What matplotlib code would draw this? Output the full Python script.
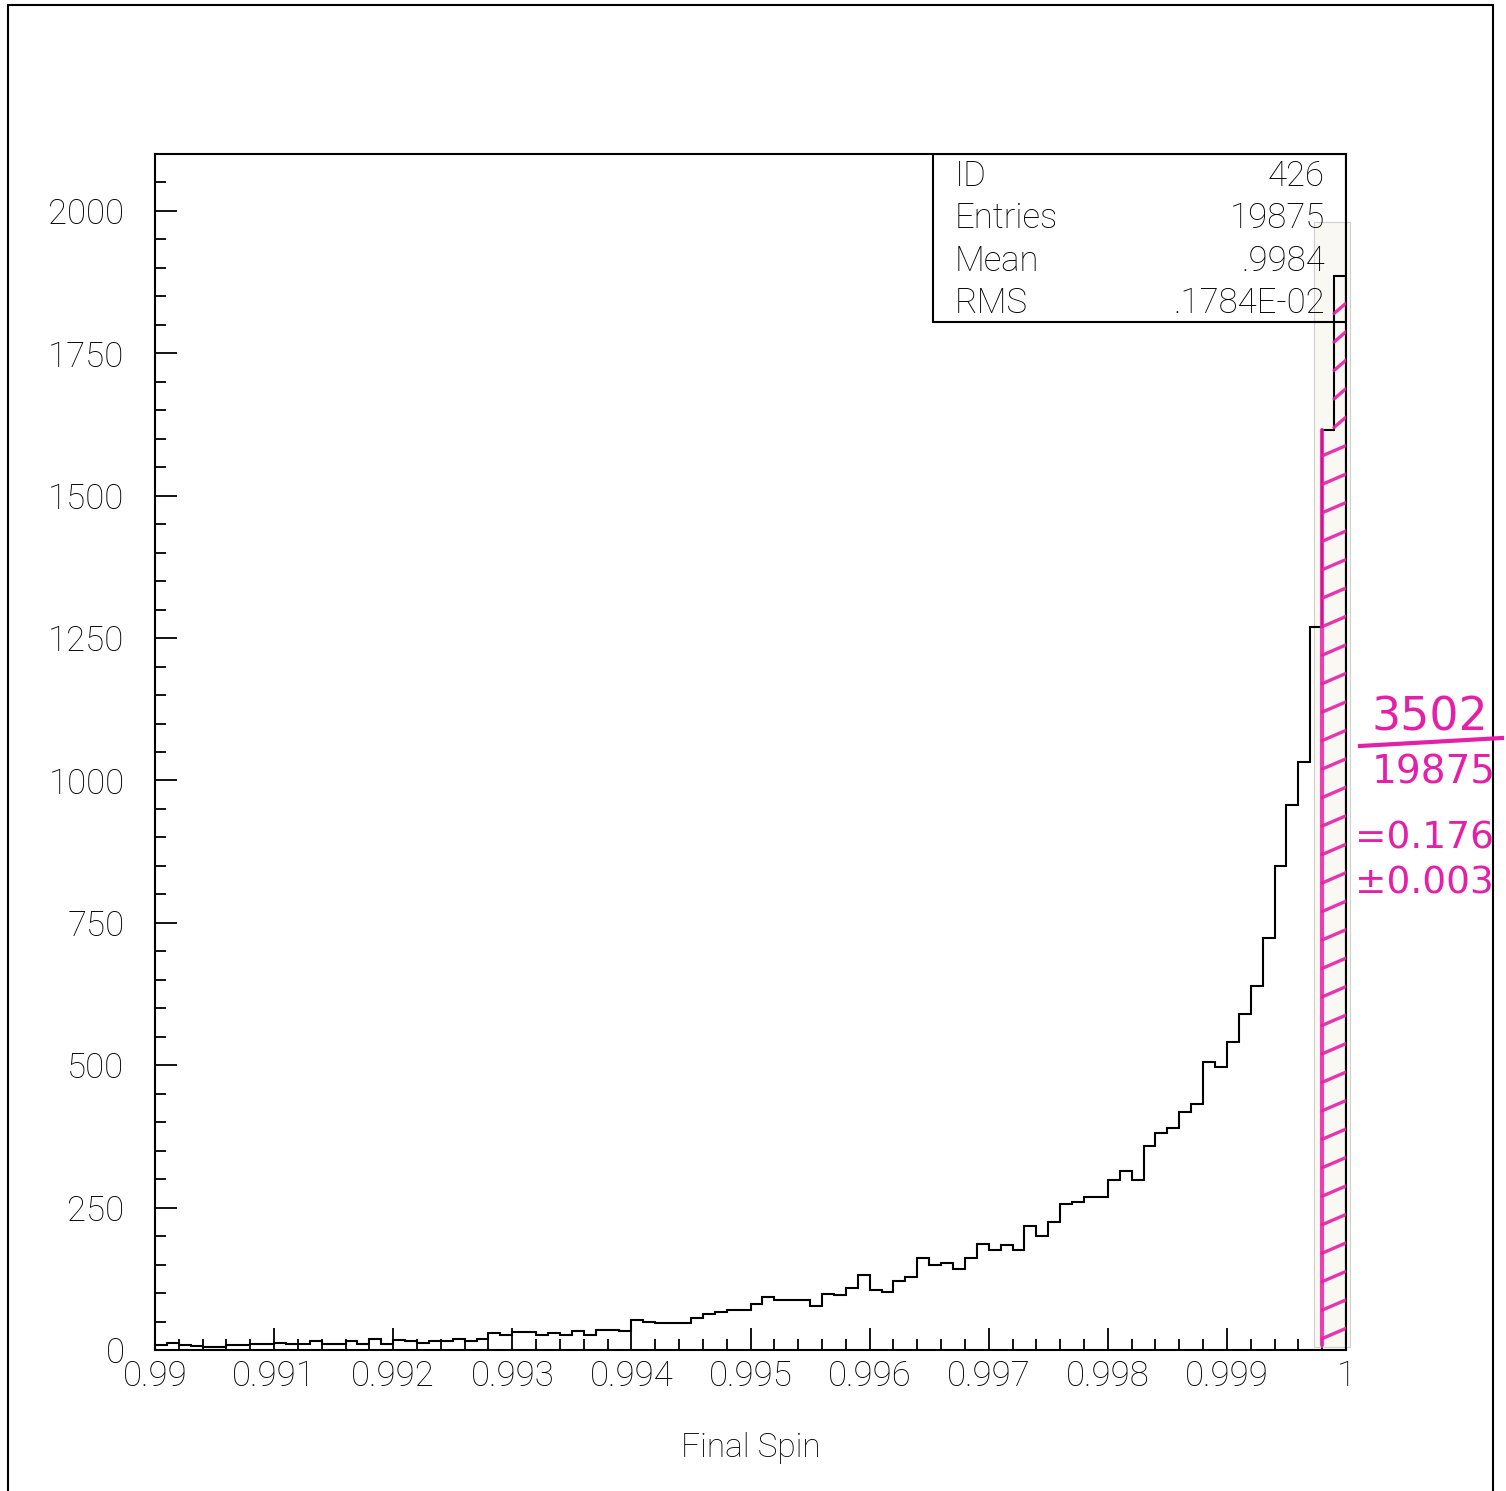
"""Final spin histogram (HBOOK style) with hand-written tail fraction."""
import matplotlib

matplotlib.use("Agg")
import matplotlib.pyplot as plt
from matplotlib.lines import Line2D
from matplotlib.patches import Rectangle
from matplotlib.ticker import MultipleLocator
import numpy as np

# histogram: 100 bins between 0.99 and 1.0
x_lo, x_hi, n_bins = 0.99, 1.0, 100
counts = [
    8, 12, 8, 7, 6, 6, 8, 9, 10, 10,
    13, 10, 10, 16, 10, 10, 15, 11, 19, 11,
    17, 15, 12, 15, 15, 20, 16, 19, 30, 27,
    32, 32, 27, 29, 27, 33, 27, 35, 35, 34,
    52, 50, 48, 47, 48, 56, 63, 67, 71, 70,
    80, 93, 87, 88, 87, 77, 98, 96, 109, 132,
    106, 102, 122, 129, 161, 149, 152, 143, 162, 186,
    175, 184, 175, 218, 200, 224, 256, 259, 268, 269,
    298, 314, 298, 358, 381, 389, 418, 432, 506, 497,
    540, 590, 639, 723, 850, 957, 1033, 1270, 1616, 1886,
]

xticks = [0.99, 0.991, 0.992, 0.993, 0.994, 0.995, 0.996, 0.997, 0.998, 0.999, 1.0]
xtick_labels = ["0.99", "0.991", "0.992", "0.993", "0.994", "0.995",
                "0.996", "0.997", "0.998", "0.999", "1"]
yticks = [0, 250, 500, 750, 1000, 1250, 1500, 1750, 2000]
ytick_labels = [str(v) for v in yticks]

stat_names = ["ID", "Entries", "Mean", "RMS"]
stat_values = ["426", "19875", ".9984", ".1784E-02"]

# hand-written note on the last two bins
note_num = "3502"
note_den = "19875"
note_ratio = "=0.176"
note_err = "±0.003"

FONT = ["Roboto", "DejaVu Sans"]
PINK = "#e61fa8"
TXT = 25

plt.rcParams["font.family"] = FONT
plt.rcParams["font.weight"] = "light"
plt.rcParams["axes.labelweight"] = "light"

W, H = 1506, 1491
fig = plt.figure(figsize=(W / 100, H / 100), dpi=100)
ax = fig.add_axes([155 / W, 1 - 1350 / H, (1346 - 155) / W, (1350 - 154) / H])

edges = np.linspace(x_lo, x_hi, n_bins + 1)
ax.stairs(counts, edges, color="black", lw=1.5, zorder=3)

ax.set_xlim(x_lo, x_hi)
ax.set_ylim(0, 2100)
ax.set_xticks(xticks, xtick_labels)
ax.set_yticks(yticks, ytick_labels)
ax.xaxis.set_minor_locator(MultipleLocator(0.0002))
ax.yaxis.set_minor_locator(MultipleLocator(50))
ax.tick_params(which="both", direction="in", top=False, right=False,
               width=1.3, colors="black")
ax.tick_params(which="major", length=16, labelsize=TXT)
ax.tick_params(which="minor", length=8)
ax.tick_params(axis="x", pad=7)
ax.tick_params(axis="y", pad=22)
for s in ax.spines.values():
    s.set_linewidth(1.5)

ax.set_xlabel("Final Spin", fontsize=24, labelpad=28)

# statistics box
ax.add_patch(Rectangle((0.6532, 0.8595), 0.3468, 0.1405, transform=ax.transAxes,
                       fill=False, lw=1.5, ec="black", zorder=4))
for i, (nm, val) in enumerate(zip(stat_names, stat_values)):
    yy = 0.9815 - i * 0.0354
    ax.text(0.6717, yy, nm, transform=ax.transAxes, fontsize=TXT,
            va="center", ha="left")
    ax.text(0.9824, yy, val, transform=ax.transAxes, fontsize=TXT,
            va="center", ha="right")

# pasted paper strip over the last bins
ax.add_patch(Rectangle((edges[97] + 0.00003, 5), 0.00030, 1975, facecolor="#f6f0e6",
                       alpha=0.45, edgecolor="#9a9a9a", lw=0.8, zorder=2,
                       clip_on=False))

# pink hatching of the last two bins
ax.plot([edges[98], edges[98]], [8, counts[98]], color=PINK, lw=3, alpha=0.85,
        zorder=5, solid_capstyle="round")
stroke_y = np.arange(20, 1840, 50)
stroke_x0 = np.where(stroke_y < counts[98], edges[98], edges[99])
for y0, x0 in zip(stroke_y, stroke_x0):
    ax.plot([x0, x_hi], [y0, y0 + 18], color=PINK, lw=2.4, alpha=0.9, zorder=5,
            solid_capstyle="round")

# hand-written fraction
hand = dict(color=PINK, family=["DejaVu Sans"], weight="normal")
fig.text(1430 / W, 1 - 718 / H, note_num, fontsize=33, ha="center",
         va="center", **hand)
fig.add_artist(Line2D([1360 / W, 1502 / W], [1 - 746 / H, 1 - 738 / H],
                      color=PINK, lw=3))
fig.text(1372 / W, 1 - 773 / H, note_den, fontsize=28, ha="left",
         va="center", **hand)
fig.text(1355 / W, 1 - 838 / H, note_ratio, fontsize=27, ha="left",
         va="center", **hand)
fig.text(1355 / W, 1 - 884 / H, note_err, fontsize=27, ha="left",
         va="center", **hand)

# page frame
fig.add_artist(Rectangle((8 / W, -0.02), (1493 - 8) / W, 1.02 - 5 / H,
                         transform=fig.transFigure, fill=False, lw=1.5,
                         ec="black"))

fig.savefig("out.png", dpi=100)
